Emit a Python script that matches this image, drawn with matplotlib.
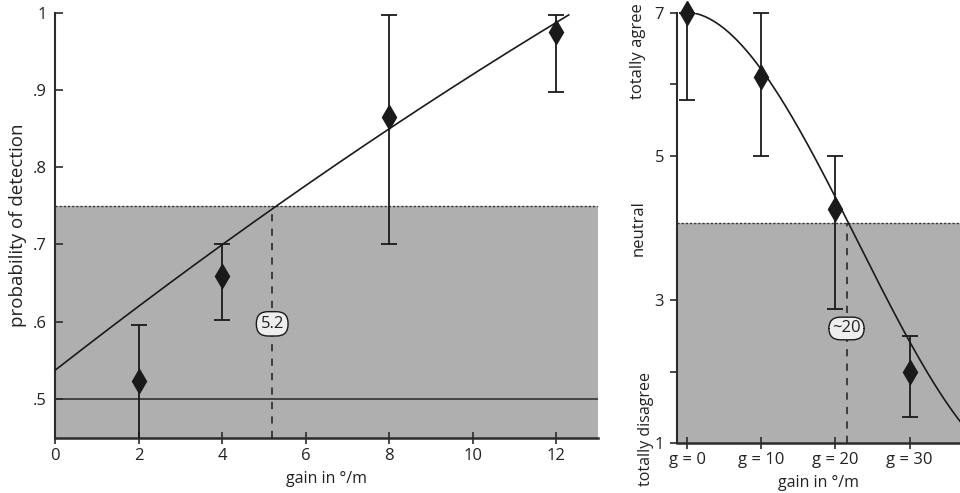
import numpy as np
import matplotlib
matplotlib.use("Agg")
import matplotlib.pyplot as plt

plt.rcParams['font.family'] = ['Open Sans', 'DejaVu Sans']

# ---------------- data: left panel ----------------
gain_left = [2, 4, 8, 12]
p_detect = [0.523, 0.659, 0.865, 0.975]
p_err_low = [0.40, 0.602, 0.700, 0.898]
p_err_high = [0.596, 0.701, 0.997, 0.997]
# fitted psychometric line
fit_left_x = [0, 2, 4, 5.2, 8, 12, 12.3]
fit_left_y = [0.535, 0.622, 0.701, 0.745, 0.848, 0.988, 0.998]
threshold_left = 0.75
chance_level = 0.5
threshold_gain_left = 5.2
left_yticks = [0.5, 0.6, 0.7, 0.8, 0.9, 1.0]
left_yticklabels = ['.5', '.6', '.7', '.8', '.9', '1']
left_xticks = [0, 2, 4, 6, 8, 10, 12]

# ---------------- data: right panel ----------------
gain_right = [0, 10, 20, 30]
rating = [7.0, 6.10, 4.27, 2.00]
rating_err_low = [5.78, 5.01, 2.87, 1.36]
rating_err_high = [7.0, 7.0, 5.0, 2.49]
fit_right_x = [0, 6.24, 10.5, 18.83, 20.85, 21.6, 29.38, 36.35]
fit_right_y = [7.0, 6.71, 6.085, 4.69, 4.29, 4.07, 2.53, 1.37]
threshold_right = 4.07
threshold_gain_right = 21.6
right_xticklabels = ['g = 0', 'g = 10', 'g = 20', 'g = 30']
right_yticks = [1, 3, 5, 7]
right_minor_yticks = [2, 6]

INK = '#1a1a1a'
SHADE = '#afafaf'
AX = '#2b2b2b'
TXT = '#222222'

fig = plt.figure(figsize=(9.6, 4.93), dpi=100)

# ================= left panel =================
ax = fig.add_axes([0.0573, 0.1116, 0.5656, 0.862])
ax.set_xlim(0, 13)
ax.set_ylim(0.449, 1.0)
ax.axhspan(0.449, threshold_left, color=SHADE, zorder=0, lw=0)
ax.axhline(threshold_left, color='#333333', lw=1.0, ls=(0, (1.5, 1.5)), zorder=1)
ax.axhline(chance_level, color='#333333', lw=1.2, zorder=1)
ax.plot([threshold_gain_left, threshold_gain_left], [0.449, threshold_left],
        color='#333333', lw=1.3, ls=(0, (4, 4)), zorder=2)

c = np.polyfit(fit_left_x, fit_left_y, 2)
xs = np.linspace(fit_left_x[0], fit_left_x[-1], 200)
ax.plot(xs, np.polyval(c, xs), color=INK, lw=1.2, zorder=3)

yerr = [np.array(p_detect) - np.array(p_err_low), np.array(p_err_high) - np.array(p_detect)]
ax.errorbar(gain_left, p_detect, yerr=yerr, fmt='d', color=INK, ms=12,
            ecolor=INK, elinewidth=1.3, capsize=6, capthick=1.3, zorder=4, clip_on=True)

ax.text(threshold_gain_left, 0.597, '5.2', ha='center', va='center', fontsize=12,
        color=TXT, zorder=5,
        bbox=dict(boxstyle='round,pad=0.25,rounding_size=0.7', fc='#eeeeee', ec=INK, lw=1))

for s in ['top', 'right']:
    ax.spines[s].set_visible(False)
ax.spines['left'].set_color(AX)
ax.spines['bottom'].set_color(AX)
ax.spines['left'].set_linewidth(1.5)
ax.spines['bottom'].set_linewidth(1.8)
ax.set_yticks(left_yticks)
ax.set_yticklabels(left_yticklabels)
ax.set_xticks(left_xticks)
ax.tick_params(axis='y', direction='in', length=6, width=1.2, colors=AX, labelsize=12,
               labelcolor=TXT, pad=6)
ax.tick_params(axis='x', direction='inout', length=8, width=1.2, colors=AX, labelsize=12,
               labelcolor=TXT, pad=3)
ax.set_xlabel('gain in °/m', fontsize=11.5, color=TXT, labelpad=5)
ax.set_ylabel('probability of detection', fontsize=13.5, color=TXT, labelpad=4)

# ================= right panel =================
ax2 = fig.add_axes([0.7049, 0.1008, 0.2951, 0.8734])
ax2.set_xlim(-1.39, 36.8)
ax2.set_ylim(1, 7)
ax2.axhspan(1, threshold_right, color=SHADE, zorder=0, lw=0)
ax2.axhline(threshold_right, color='#333333', lw=1.0, ls=(0, (1.5, 1.5)), zorder=1)
ax2.plot([threshold_gain_right, threshold_gain_right], [1, threshold_right],
         color='#333333', lw=1.3, ls=(0, (4, 4)), zorder=2)

c2 = np.polyfit(fit_right_x, fit_right_y, 3)
xs2 = np.linspace(0, 40, 300)
ax2.plot(xs2, np.polyval(c2, xs2), color=INK, lw=1.2, zorder=3)

yerr2 = [np.array(rating) - np.array(rating_err_low), np.array(rating_err_high) - np.array(rating)]
ax2.errorbar(gain_right, rating, yerr=yerr2, fmt='d', color=INK, ms=12,
             ecolor=INK, elinewidth=1.3, capsize=6, capthick=1.3, zorder=4, clip_on=False)

ax2.text(21.5, 2.6, '~20', ha='center', va='center', fontsize=12, color=TXT, zorder=5,
         bbox=dict(boxstyle='round,pad=0.2,rounding_size=0.7', fc='#eeeeee', ec=INK, lw=1))

for s in ['top', 'right']:
    ax2.spines[s].set_visible(False)
ax2.spines['left'].set_color(AX)
ax2.spines['bottom'].set_color(AX)
ax2.spines['left'].set_linewidth(1.5)
ax2.spines['bottom'].set_linewidth(1.8)
ax2.set_xticks(gain_right)
ax2.set_xticklabels(right_xticklabels)
ax2.set_yticks(right_yticks)
ax2.set_yticks(right_minor_yticks, minor=True)
ax2.tick_params(axis='y', which='both', direction='out', length=5, width=1.2, colors=AX,
                labelsize=12, labelcolor=TXT, pad=4)
ax2.tick_params(axis='x', direction='inout', length=8, width=1.2, colors=AX, labelsize=12,
                labelcolor=TXT, pad=2)
ax2.set_xlabel('gain in °/m', fontsize=11.5, color=TXT, labelpad=5)

ax2.text(-0.135, 6.46, 'totally agree', transform=ax2.get_yaxis_transform(), rotation=90,
         ha='center', va='center', fontsize=12, color=TXT)
ax2.text(-0.135, 4.0, 'neutral', transform=ax2.get_yaxis_transform(), rotation=90,
         ha='center', va='center', fontsize=12, color=TXT)
ax2.text(-0.11, 1.2, 'totally disagree', transform=ax2.get_yaxis_transform(), rotation=90,
         ha='center', va='center', fontsize=11.5, color=TXT, clip_on=False)

fig.savefig('out.png', dpi=100)
